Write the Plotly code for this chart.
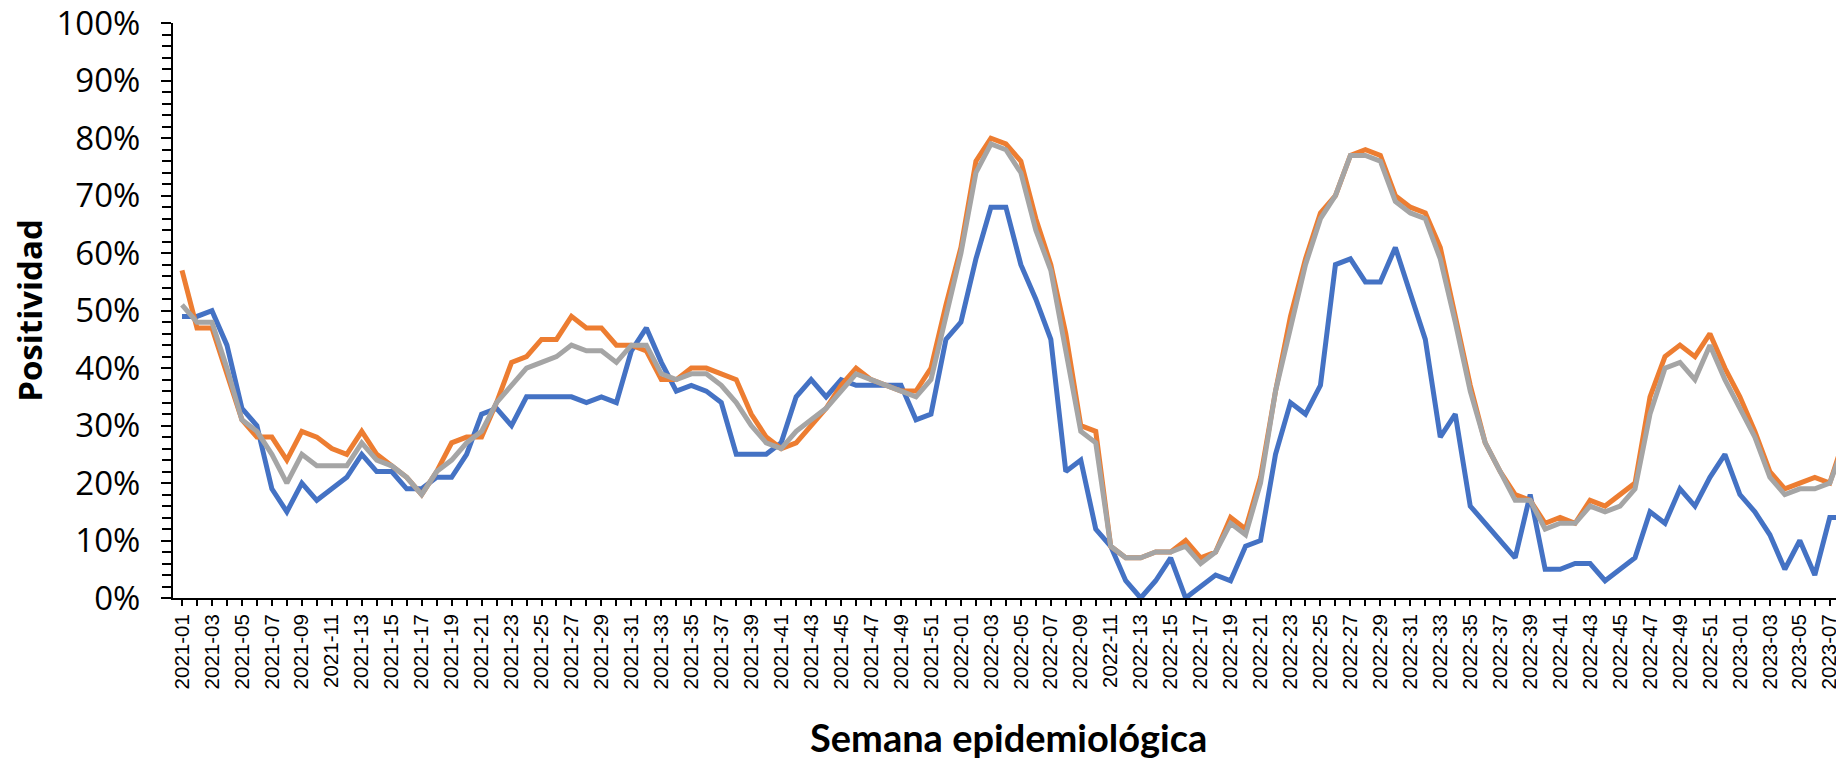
import plotly.graph_objects as go

# semanas epidemiologicas 2021-01 .. 2023-08
weeks = [f"{y}-{w:02d}" for y, n in ((2021, 52), (2022, 52), (2023, 8)) for w in range(1, n + 1)]

serie_azul = [
    49, 49, 50, 44, 33, 30, 19, 15, 20, 17, 19, 21, 25, 22, 22, 19, 19, 21, 21, 25,
    32, 33, 30, 35, 35, 35, 35, 34, 35, 34, 43, 47, 41, 36, 37, 36, 34, 25, 25, 25,
    27, 35, 38, 35, 38, 37, 37, 37, 37, 31, 32, 45,
    48, 59, 68, 68, 58, 52, 45, 22, 24, 12, 9, 3, 0, 3, 7, 0, 2, 4, 3, 9,
    10, 25, 34, 32, 37, 58, 59, 55, 55, 61, 53, 45, 28, 32, 16, 13, 10, 7, 18, 5,
    5, 6, 6, 3, 5, 7, 15, 13, 19, 16, 21, 25,
    18, 15, 11, 5, 10, 4, 14, 14,
]
serie_naranja = [
    57, 47, 47, 39, 31, 28, 28, 24, 29, 28, 26, 25, 29, 25, 23, 21, 18, 22, 27, 28,
    28, 34, 41, 42, 45, 45, 49, 47, 47, 44, 44, 43, 38, 38, 40, 40, 39, 38, 32, 28,
    26, 27, 30, 33, 37, 40, 38, 37, 36, 36, 40, 51,
    61, 76, 80, 79, 76, 66, 58, 46, 30, 29, 9, 7, 7, 8, 8, 10, 7, 8, 14, 12,
    21, 36, 49, 59, 67, 70, 77, 78, 77, 70, 68, 67, 61, 49, 37, 27, 22, 18, 17, 13,
    14, 13, 17, 16, 18, 20, 35, 42, 44, 42, 46, 40,
    35, 29, 22, 19, 20, 21, 20, 28,
]
serie_gris = [
    51, 48, 48, 40, 31, 29, 25, 20, 25, 23, 23, 23, 27, 24, 23, 21, 18, 22, 24, 27,
    29, 34, 37, 40, 41, 42, 44, 43, 43, 41, 44, 44, 39, 38, 39, 39, 37, 34, 30, 27,
    26, 29, 31, 33, 36, 39, 38, 37, 36, 35, 38, 49,
    60, 74, 79, 78, 74, 64, 57, 43, 29, 27, 9, 7, 7, 8, 8, 9, 6, 8, 13, 11,
    20, 36, 47, 58, 66, 70, 77, 77, 76, 69, 67, 66, 59, 48, 36, 27, 22, 17, 17, 12,
    13, 13, 16, 15, 16, 19, 32, 40, 41, 38, 44, 38,
    33, 28, 21, 18, 19, 19, 20, 27,
]

x = list(range(len(weeks)))

fig = go.Figure()
for ys, col in ((serie_azul, "#4472C4"), (serie_naranja, "#ED7D31"), (serie_gris, "#A5A5A5")):
    fig.add_trace(go.Scatter(x=x, y=ys, mode="lines",
                             line=dict(color=col, width=5), showlegend=False))

# the page body has an 8px margin, so the figure is 8px smaller on each side
fig.update_layout(
    width=1836, height=750,
    margin=dict(l=165, r=0, t=15, b=160),
    plot_bgcolor="white", paper_bgcolor="white",
)
fig.update_xaxes(
    range=[-0.6, 110.95], automargin=False,
    tickmode="array", tickvals=x[::2], ticktext=weeks[::2], tickangle=-90,
    tickfont=dict(family="Liberation Sans", size=20.5, color="black"),
    ticklabeloverflow="allow",
    showgrid=False, zeroline=False,
    showline=True, linecolor="black", linewidth=2,
    ticks="outside", ticklen=6, tickwidth=1.5, tickcolor="black",
    minor=dict(tickmode="linear", tick0=0, dtick=1, ticks="outside",
               ticklen=6, tickwidth=1.5, tickcolor="black"),
)
fig.update_yaxes(
    range=[0, 100.05], automargin=False,
    tickmode="array", tickvals=list(range(0, 101, 10)),
    ticktext=[f"{v}%" for v in range(0, 101, 10)],
    tickfont=dict(family="Open Sans", size=33, color="black"),
    ticklabeloverflow="allow",
    showgrid=False, zeroline=False,
    showline=True, linecolor="black", linewidth=2,
    ticks="outside", ticklen=10, tickwidth=2, tickcolor="black",
    ticklabelstandoff=14,
    minor=dict(tickmode="linear", tick0=0, dtick=2, ticks="outside",
               ticklen=9, tickwidth=1.5, tickcolor="black"),
)
fig.add_annotation(text="<b>Semana epidemiológica</b>", xref="paper", yref="paper",
                   x=0.5, y=-0.241, xanchor="center", yanchor="middle", showarrow=False,
                   font=dict(family="Lato", size=38, color="black"))
fig.add_annotation(text="<b>Positividad</b>", xref="paper", yref="paper",
                   x=-0.086, y=0.5, xanchor="center", yanchor="middle", showarrow=False,
                   textangle=-90, font=dict(family="Open Sans", size=33, color="black"))

fig.write_html("out.html")
